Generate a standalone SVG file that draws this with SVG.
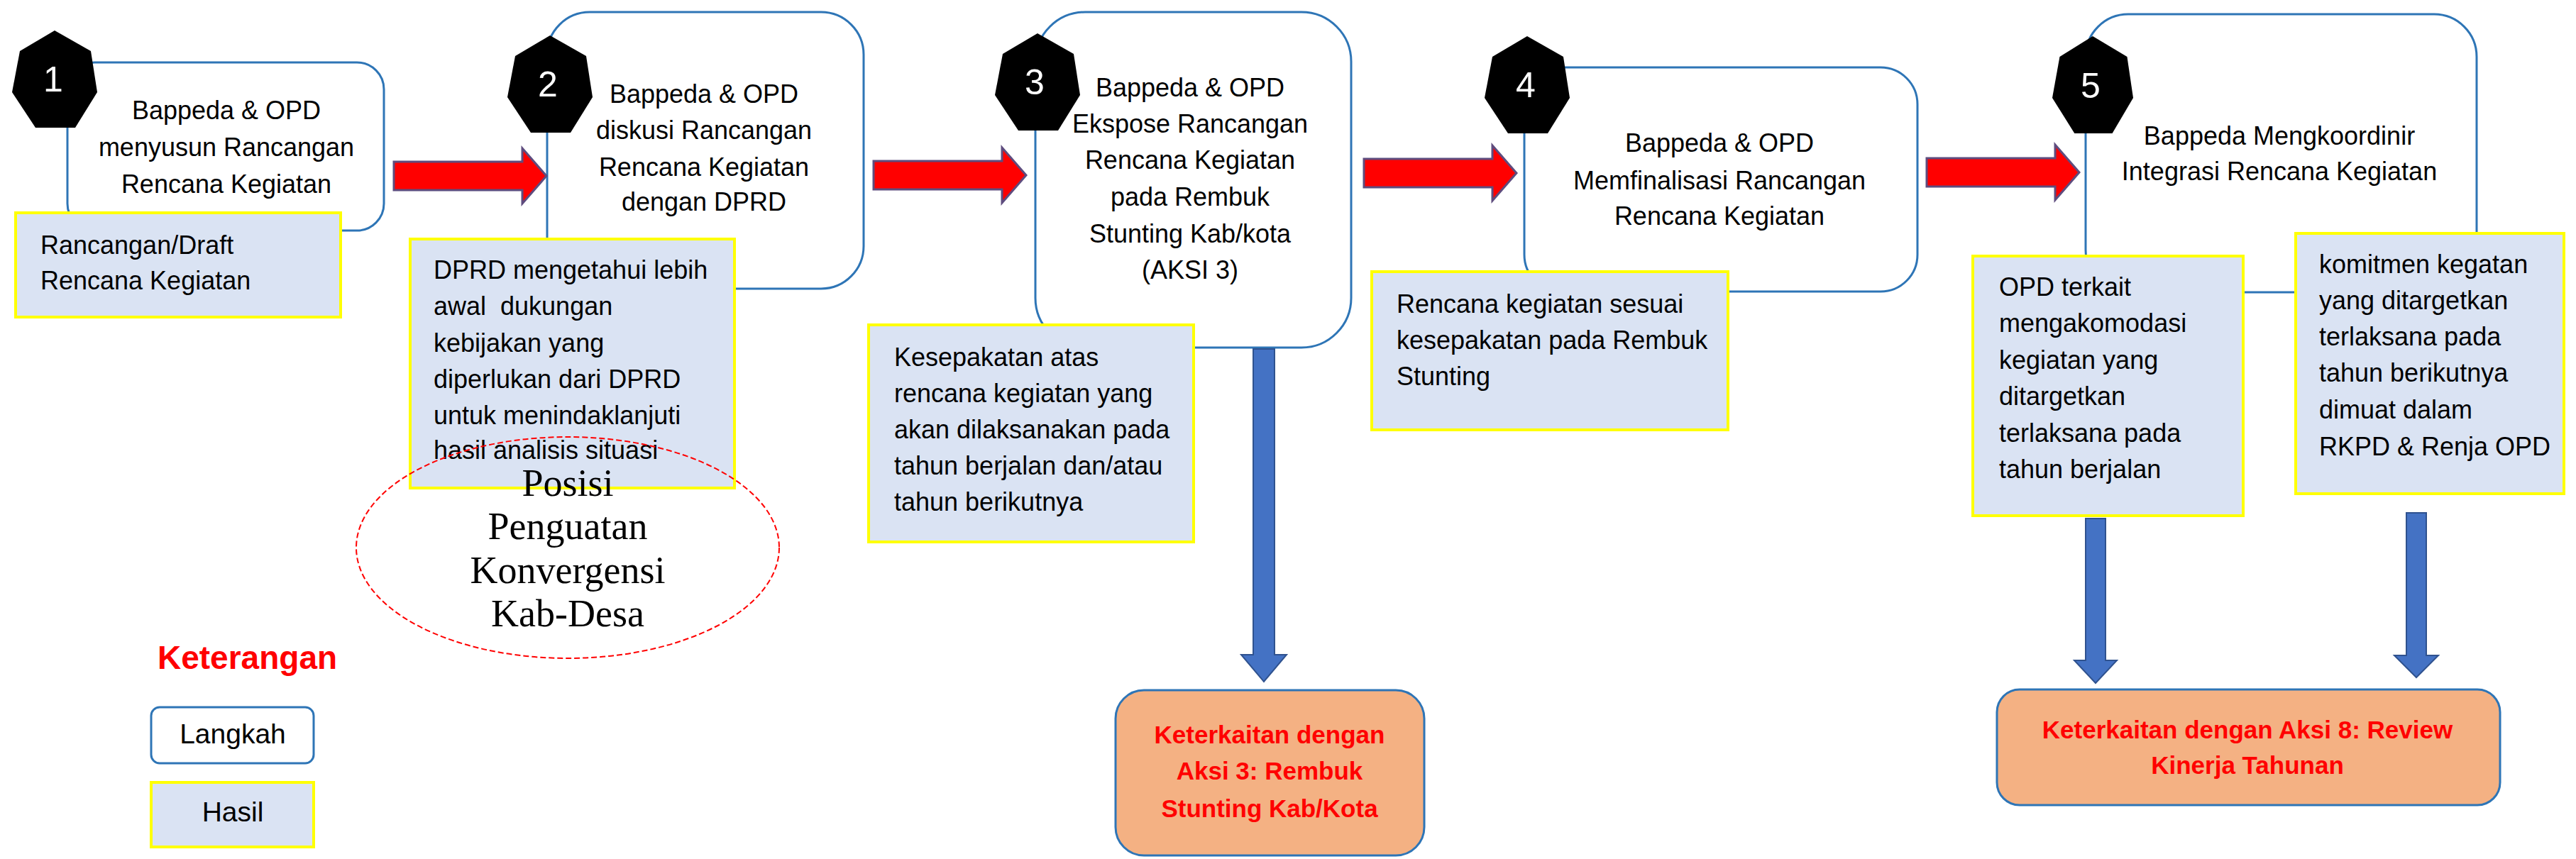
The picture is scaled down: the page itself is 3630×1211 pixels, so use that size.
<svg xmlns="http://www.w3.org/2000/svg" xmlns:xlink="http://www.w3.org/1999/xlink" width="3630" height="1211" viewBox="0 0 3630 1211">
<style>
.t{font-family:"Liberation Sans",Arial,sans-serif;font-size:36px;fill:#000}
.c{text-anchor:middle}
.num{font-family:"Liberation Sans",Arial,sans-serif;font-size:50px;fill:#fff;text-anchor:middle}
.o{font-family:"Liberation Sans",Arial,sans-serif;font-weight:bold;fill:#FF0000;font-size:35px;text-anchor:middle}
.step{fill:#fff;stroke:#2E75B6;stroke-width:3}
.res{fill:#DAE3F3;stroke:#FFFF00;stroke-width:4}
.out{fill:#F4B183;stroke:#2E75B6;stroke-width:3}
.red{fill:#FF0000;stroke:#5E4C7E;stroke-width:3}
.blue{fill:#4472C4;stroke:#2F528F;stroke-width:2}
.hep{fill:#000}
.serif{font-family:"Liberation Serif","Times New Roman",serif;font-size:54px;fill:#000;text-anchor:middle}
</style>
<defs>
<path id="hept" d="M60,0 L111,29 L120,87 L89,137 L33,137 L0,87 L11,29 Z"/>
<path id="rarrow" d="M0,-20 H181 V-39 L215,0 L181,39 V20 H0 Z"/>
</defs>
<rect width="3630" height="1211" fill="#fff"/>

<g id="step1">
<rect class="step" x="95" y="88" width="446" height="237" rx="38"/>
<use xlink:href="#hept" class="hep" x="17" y="43"/>
<text class="num" x="75" y="129">1</text>
<text class="t c" x="319" y="168">Bappeda &amp; OPD</text>
<text class="t c" x="319" y="220">menyusun Rancangan</text>
<text class="t c" x="319" y="272">Rencana Kegiatan</text>
</g>
<g id="hasil1">
<rect class="res" x="22" y="300" width="458" height="147"/>
<text class="t" x="57" y="358">Rancangan/Draft</text>
<text class="t" x="57" y="408">Rencana Kegiatan</text>
</g>

<g id="step2">
<rect class="step" x="771" y="17" width="446" height="390" rx="60"/>
<use xlink:href="#hept" class="hep" x="715" y="50"/>
<text class="num" x="772" y="136">2</text>
<text class="t c" x="992" y="145">Bappeda &amp; OPD</text>
<text class="t c" x="992" y="196">diskusi Rancangan</text>
<text class="t c" x="992" y="248">Rencana Kegiatan</text>
<text class="t c" x="992" y="297">dengan DPRD</text>
</g>
<g id="hasil2">
<rect class="res" x="578" y="337" width="457" height="351"/>
<text class="t" x="611" y="393">DPRD mengetahui lebih</text>
<text class="t" x="611" y="444" xml:space="preserve">awal  dukungan</text>
<text class="t" x="611" y="496">kebijakan yang</text>
<text class="t" x="611" y="547">diperlukan dari DPRD</text>
<text class="t" x="611" y="598">untuk menindaklanjuti</text>
<text class="t" x="611" y="647">hasil analisis situasi</text>
</g>

<g id="posisi">
<ellipse cx="800" cy="772" rx="298" ry="156" fill="none" stroke="#FF0000" stroke-width="2" stroke-dasharray="8,4"/>
<text class="serif" x="800" y="699">Posisi</text>
<text class="serif" x="800" y="760">Penguatan</text>
<text class="serif" x="800" y="822">Konvergensi</text>
<text class="serif" x="800" y="883">Kab-Desa</text>
</g>

<g id="step3">
<rect class="step" x="1459" y="17" width="445" height="473" rx="70"/>
<use xlink:href="#hept" class="hep" x="1402" y="47"/>
<text class="num" x="1458" y="133">3</text>
<text class="t c" x="1677" y="136">Bappeda &amp; OPD</text>
<text class="t c" x="1677" y="187">Ekspose Rancangan</text>
<text class="t c" x="1677" y="238">Rencana Kegiatan</text>
<text class="t c" x="1677" y="290">pada Rembuk</text>
<text class="t c" x="1677" y="342">Stunting Kab/kota</text>
<text class="t c" x="1677" y="393">(AKSI 3)</text>
</g>
<g id="hasil3">
<rect class="res" x="1224" y="458" width="458" height="306"/>
<text class="t" x="1260" y="516">Kesepakatan atas</text>
<text class="t" x="1260" y="567">rencana kegiatan yang</text>
<text class="t" x="1260" y="618">akan dilaksanakan pada</text>
<text class="t" x="1260" y="669">tahun berjalan dan/atau</text>
<text class="t" x="1260" y="720">tahun berikutnya</text>
</g>

<g id="step4">
<rect class="step" x="2148" y="95" width="554" height="316" rx="52"/>
<use xlink:href="#hept" class="hep" x="2092" y="51"/>
<text class="num" x="2150" y="137">4</text>
<text class="t c" x="2423" y="214">Bappeda &amp; OPD</text>
<text class="t c" x="2423" y="267">Memfinalisasi Rancangan</text>
<text class="t c" x="2423" y="317">Rencana Kegiatan</text>
</g>
<g id="hasil4">
<rect class="res" x="1933" y="383" width="502" height="223"/>
<text class="t" x="1968" y="441">Rencana kegiatan sesuai</text>
<text class="t" x="1968" y="492">kesepakatan pada Rembuk</text>
<text class="t" x="1968" y="543">Stunting</text>
</g>

<g id="step5">
<rect class="step" x="2939" y="20" width="551" height="392" rx="60"/>
<use xlink:href="#hept" class="hep" transform="translate(2892,51) scale(0.95,1)"/>
<text class="num" x="2946" y="138">5</text>
<text class="t c" x="3212" y="204">Bappeda Mengkoordinir</text>
<text class="t c" x="3212" y="254">Integrasi Rencana Kegiatan</text>
</g>
<g id="hasil5a">
<rect class="res" x="2780" y="361" width="381" height="366"/>
<text class="t" x="2817" y="417">OPD terkait</text>
<text class="t" x="2817" y="468">mengakomodasi</text>
<text class="t" x="2817" y="520">kegiatan yang</text>
<text class="t" x="2817" y="571">ditargetkan</text>
<text class="t" x="2817" y="623">terlaksana pada</text>
<text class="t" x="2817" y="674">tahun berjalan</text>
</g>
<g id="hasil5b">
<rect class="res" x="3235" y="329" width="378" height="367"/>
<text class="t" x="3268" y="385">komitmen kegatan</text>
<text class="t" x="3268" y="436">yang ditargetkan</text>
<text class="t" x="3268" y="487">terlaksana pada</text>
<text class="t" x="3268" y="538">tahun berikutnya</text>
<text class="t" x="3268" y="590">dimuat dalam</text>
<text class="t" x="3268" y="642">RKPD &amp; Renja OPD</text>
</g>

<g id="aksi3">
<rect class="out" x="1572" y="973" width="435" height="233" rx="40"/>
<text class="o" x="1789" y="1048">Keterkaitan dengan</text>
<text class="o" x="1789" y="1099">Aksi 3: Rembuk</text>
<text class="o" x="1789" y="1152">Stunting Kab/Kota</text>
</g>
<g id="aksi8">
<rect class="out" x="2814" y="972" width="709" height="163" rx="32"/>
<text class="o" x="3167" y="1041">Keterkaitan dengan Aksi 8: Review</text>
<text class="o" x="3167" y="1091">Kinerja Tahunan</text>
</g>

<g id="legend">
<text x="222" y="943" style="font-family:'Liberation Sans',Arial,sans-serif;font-weight:bold;font-size:46px;fill:#FF0000">Keterangan</text>
<rect class="step" x="213" y="997" width="229" height="79" rx="12"/>
<text class="t c" x="328" y="1048" style="font-size:39px">Langkah</text>
<rect class="res" x="213" y="1103" width="229" height="91"/>
<text class="t c" x="328" y="1158" style="font-size:39px">Hasil</text>
</g>

<g id="connectors">
<use xlink:href="#rarrow" class="red" transform="translate(555,248)"/>
<use xlink:href="#rarrow" class="red" transform="translate(1231,247)"/>
<use xlink:href="#rarrow" class="red" transform="translate(1922,244)"/>
<use xlink:href="#rarrow" class="red" transform="translate(2715,243)"/>
<path class="blue" d="M1766,492 H1796 V923 H1813 L1781,961 L1749,923 H1766 Z"/>
<path class="blue" d="M2939,731 H2967 V931 H2983 L2953,963 L2923,931 H2939 Z"/>
<path class="blue" d="M3391,723 H3419 V924 H3436 L3405,955 L3374,924 H3391 Z"/>
</g>
</svg>
